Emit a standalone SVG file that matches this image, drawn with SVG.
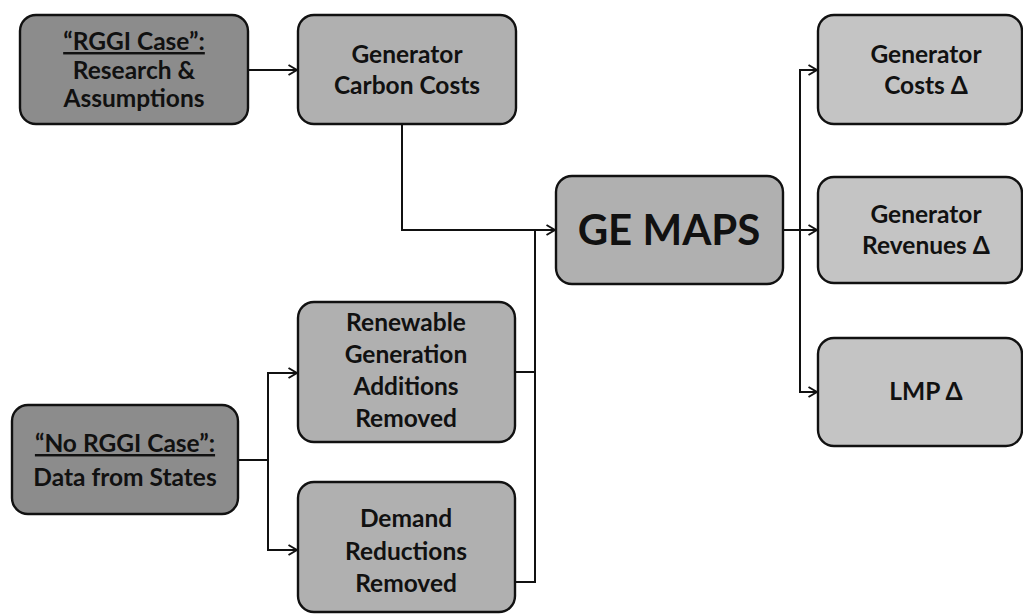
<svg xmlns="http://www.w3.org/2000/svg" width="1023" height="615" viewBox="0 0 1023 615">
<style>
.box{stroke:#111;stroke-width:2.4}
.dark{fill:#8c8c8c}
.mid{fill:#b0b0b0}
.light{fill:#c4c4c4}
text{font-family:Lato,"Open Sans","Liberation Sans",sans-serif;font-weight:bold;fill:#111;text-anchor:middle}
.t{font-size:24.5px}
.big{font-size:42px}
.u{text-decoration:underline}
.c{fill:none;stroke:#111;stroke-width:2}
</style>
<defs>
<marker id="ah" viewBox="0 0 10 12" refX="9.5" refY="6" markerWidth="10" markerHeight="12" markerUnits="userSpaceOnUse" orient="auto">
<path d="M1,1 L9.5,6 L1,11" fill="none" stroke="#111" stroke-width="2"/>
</marker>
</defs>
<rect width="1023" height="615" fill="#fff"/>
<g id="connectors">
<path class="c" d="M248,70 H297" marker-end="url(#ah)"/>
<path class="c" d="M402,124 V230 H555" marker-end="url(#ah)"/>
<path class="c" d="M515,372 H535 V230"/>
<path class="c" d="M515,582 H535 V230"/>
<path class="c" d="M238,460 H268"/>
<path class="c" d="M268,460 V373 H297" marker-end="url(#ah)"/>
<path class="c" d="M268,460 V550 H297" marker-end="url(#ah)"/>
<path class="c" d="M783,230 H817" marker-end="url(#ah)"/>
<path class="c" d="M800,230 V70 H817" marker-end="url(#ah)"/>
<path class="c" d="M800,230 V392 H817" marker-end="url(#ah)"/>
</g>
<g id="rggi">
<rect class="box dark" x="20" y="15" width="228" height="109" rx="16"/>
<text class="t" x="134" y="50"><tspan class="u">“RGGI Case”:</tspan></text>
<text class="t" x="134" y="79">Research &amp;</text>
<text class="t" x="134" y="107">Assumptions</text>
</g>
<g id="carbon">
<rect class="box mid" x="298" y="15" width="218" height="109" rx="16"/>
<text class="t" x="407" y="63">Generator</text>
<text class="t" x="407" y="94">Carbon Costs</text>
</g>
<g id="gemaps">
<rect class="box mid" x="556" y="176" width="227" height="108" rx="16"/>
<text class="big" x="669" y="245">GE MAPS</text>
</g>
<g id="norggi">
<rect class="box dark" x="12" y="405" width="226" height="109" rx="16"/>
<text class="t" x="125" y="452"><tspan class="u">“No RGGI Case”:</tspan></text>
<text class="t" x="125" y="486">Data from States</text>
</g>
<g id="renewable">
<rect class="box mid" x="298" y="302" width="217" height="140" rx="16"/>
<text class="t" x="406" y="331">Renewable</text>
<text class="t" x="406" y="363">Generation</text>
<text class="t" x="406" y="395">Additions</text>
<text class="t" x="406" y="427">Removed</text>
</g>
<g id="demand">
<rect class="box mid" x="298" y="482" width="217" height="130" rx="16"/>
<text class="t" x="406" y="527">Demand</text>
<text class="t" x="406" y="560">Reductions</text>
<text class="t" x="406" y="592">Removed</text>
</g>
<g id="gencosts">
<rect class="box light" x="818" y="15" width="204" height="109" rx="16"/>
<text class="t" x="926" y="63">Generator</text>
<text class="t" x="926" y="94">Costs Δ</text>
</g>
<g id="genrev">
<rect class="box light" x="818" y="177" width="204" height="106" rx="16"/>
<text class="t" x="926" y="223">Generator</text>
<text class="t" x="926" y="254">Revenues Δ</text>
</g>
<g id="lmp">
<rect class="box light" x="818" y="338" width="204" height="108" rx="16"/>
<text class="t" x="926" y="400">LMP Δ</text>
</g>
</svg>
